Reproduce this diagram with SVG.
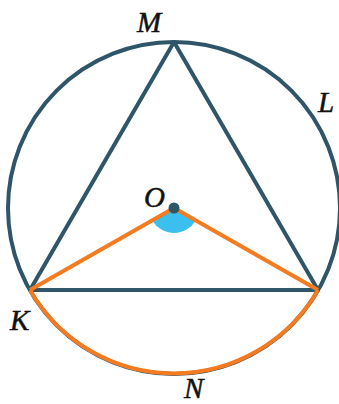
<svg xmlns="http://www.w3.org/2000/svg" width="339" height="404" viewBox="0 0 339 404">
<style>
.dk{fill:none;stroke:#2e5568;stroke-width:4;stroke-linejoin:round}
.or{fill:none;stroke:#f47b20;stroke-width:4;stroke-linejoin:round}
.lb{font-family:"Liberation Serif",serif;font-style:italic;font-size:29px;fill:#111;stroke:#111;stroke-width:0.5}
</style>
<rect width="339" height="404" fill="#fff"/>
<g id="circle"><circle class="dk" cx="174" cy="208" r="166"/></g>
<g id="angle"><path d="M174 208 L195.7 220.4 A25 25 0 0 1 152.3 220.4 Z" fill="#3bbfef"/></g>
<g id="connectors">
<path class="dk" d="M174 42 L30 290 L318 290 Z"/>
<path class="or" d="M30 290 L174 208 L318 290"/>
<path class="or" d="M30 290 A166 166 0 0 0 318 290"/>
</g>
<g id="O"><circle cx="174" cy="208" r="5.5" fill="#2e5568"/><text class="lb" x="144" y="207">O</text></g>
<g id="M"><text class="lb" x="137" y="32">M</text></g>
<g id="L"><text class="lb" x="318" y="112">L</text></g>
<g id="K"><text class="lb" x="10" y="330">K</text></g>
<g id="N"><text class="lb" x="184" y="398">N</text></g>
</svg>
